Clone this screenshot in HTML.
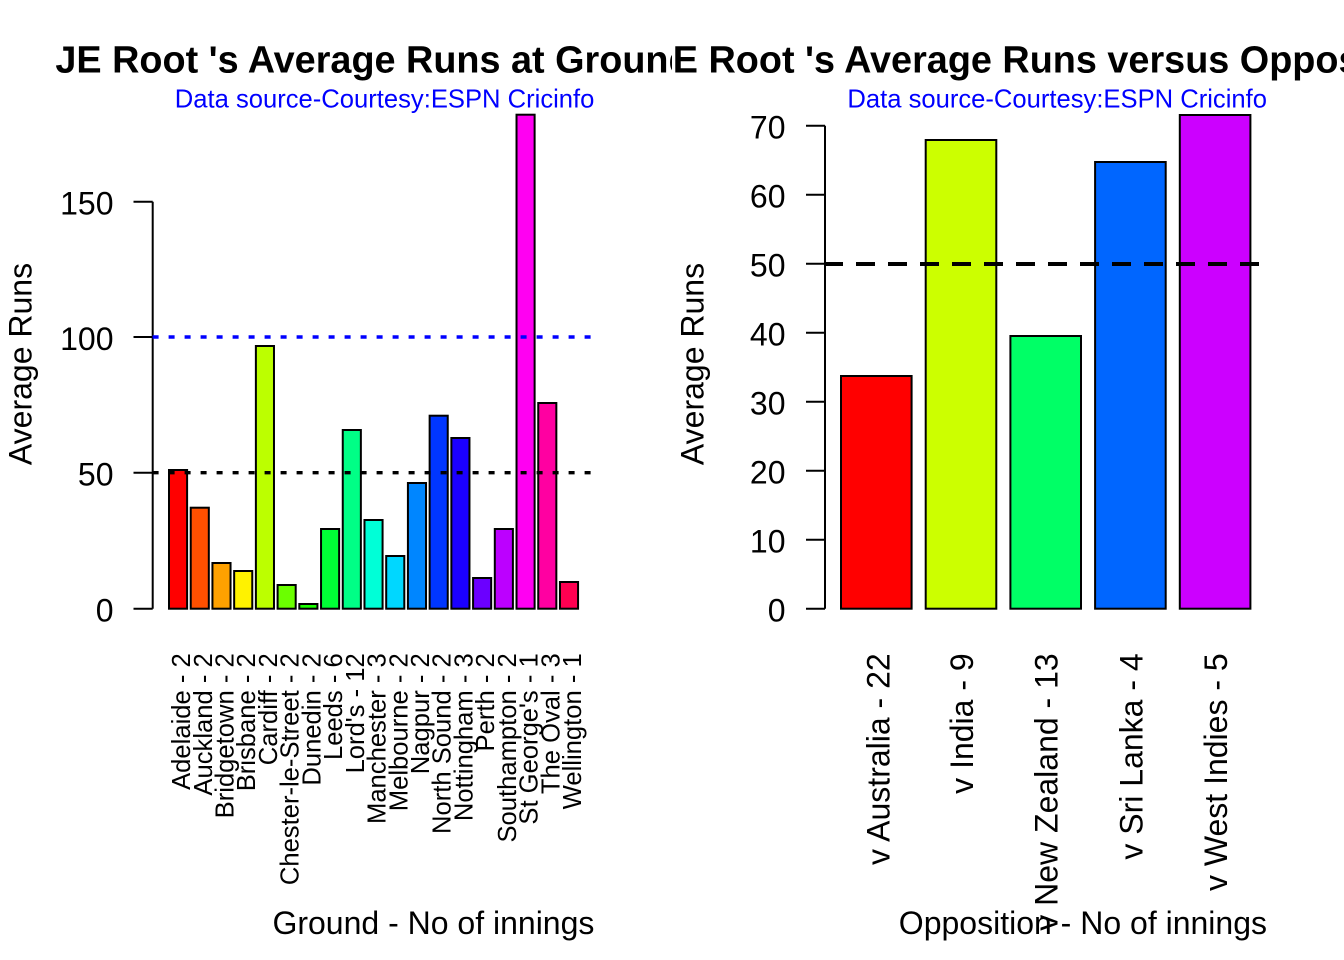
<!DOCTYPE html>
<html>
<head>
<meta charset="utf-8">
<style>
html,body{margin:0;padding:0;background:#fff;}
svg{display:block;}
text{font-family:"Liberation Sans",Arial,sans-serif;fill:#000;}
</style>
</head>
<body>
<svg width="1344" height="960" viewBox="0 0 1344 960" xmlns="http://www.w3.org/2000/svg">
<defs>
<clipPath id="cl"><rect x="0" y="0" width="672" height="960"/></clipPath>
<clipPath id="cr"><rect x="672" y="0" width="672" height="960"/></clipPath>
</defs>
<rect width="1344" height="960" fill="#fff"/>

<!-- Titles -->
<g clip-path="url(#cl)">
<text x="373.5" y="72.7" text-anchor="middle" font-size="37.8" font-weight="bold">JE Root 's Average Runs at Ground</text>
</g>
<g clip-path="url(#cr)">
<text x="1045.5" y="72.7" text-anchor="middle" font-size="37.8" font-weight="bold">JE Root 's Average Runs versus Opposition</text>
</g>
<text x="594.4" y="107.5" text-anchor="end" font-size="25.6" style="fill:#0000FF">Data source-Courtesy:ESPN Cricinfo</text>
<text x="1267" y="107.5" text-anchor="end" font-size="25.6" style="fill:#0000FF">Data source-Courtesy:ESPN Cricinfo</text>

<!-- LEFT CHART bars -->
<g stroke="#000" stroke-width="2">
<rect x="169" y="470" width="18.1" height="138.7" fill="#FF0000"/>
<rect x="190.72" y="507.7" width="18.1" height="101" fill="#FF5000"/>
<rect x="212.44" y="563" width="18.1" height="45.7" fill="#FFA100"/>
<rect x="234.16" y="571" width="18.1" height="37.7" fill="#FFF200"/>
<rect x="255.88" y="346" width="18.1" height="262.7" fill="#BCFF00"/>
<rect x="277.6" y="585" width="18.1" height="23.7" fill="#6BFF00"/>
<rect x="299.32" y="604" width="18.1" height="4.7" fill="#1BFF00"/>
<rect x="321.04" y="529" width="18.1" height="79.7" fill="#00FF36"/>
<rect x="342.76" y="430" width="18.1" height="178.7" fill="#00FF86"/>
<rect x="364.48" y="520" width="18.1" height="88.7" fill="#00FFD7"/>
<rect x="386.2" y="556" width="18.1" height="52.7" fill="#00D7FF"/>
<rect x="407.92" y="483" width="18.1" height="125.7" fill="#0086FF"/>
<rect x="429.64" y="415.7" width="18.1" height="193" fill="#0036FF"/>
<rect x="451.36" y="438" width="18.1" height="170.7" fill="#1B00FF"/>
<rect x="473.08" y="578" width="18.1" height="30.7" fill="#6B00FF"/>
<rect x="494.8" y="529" width="18.1" height="79.7" fill="#BC00FF"/>
<rect x="516.52" y="114.7" width="18.1" height="494" fill="#FF00F2"/>
<rect x="538.24" y="403" width="18.1" height="205.7" fill="#FF00A1"/>
<rect x="559.96" y="582" width="18.1" height="26.7" fill="#FF0051"/>
</g>

<!-- left axis -->
<g stroke="#000" stroke-width="2" fill="none">
<line x1="152.7" y1="201.7" x2="152.7" y2="608.7"/>
<line x1="133.5" y1="201.7" x2="152.7" y2="201.7"/>
<line x1="133.5" y1="337" x2="152.7" y2="337"/>
<line x1="133.5" y1="472.7" x2="152.7" y2="472.7"/>
<line x1="133.5" y1="608.7" x2="152.7" y2="608.7"/>
</g>
<g font-size="32" text-anchor="end">
<text x="113.5" y="214.7">150</text>
<text x="113.5" y="350">100</text>
<text x="113.5" y="485.7">50</text>
<text x="113.5" y="621.7">0</text>
</g>

<!-- left reference lines -->
<line x1="152.6" y1="337" x2="594.4" y2="337" stroke="#0000FF" stroke-width="3.4" stroke-dasharray="6 10"/>
<line x1="152.6" y1="472.7" x2="594.4" y2="472.7" stroke="#000" stroke-width="3.4" stroke-dasharray="6 10"/>

<!-- left x labels -->
<g font-size="25.6" text-anchor="end">
<text transform="translate(190.05,653.3) rotate(-90)">Adelaide - 2</text>
<text transform="translate(211.77,653.3) rotate(-90)">Auckland - 2</text>
<text transform="translate(233.49,653.3) rotate(-90)">Bridgetown - 2</text>
<text transform="translate(255.21,653.3) rotate(-90)">Brisbane - 2</text>
<text transform="translate(276.93,653.3) rotate(-90)">Cardiff - 2</text>
<text transform="translate(298.65,653.3) rotate(-90)">Chester-le-Street - 2</text>
<text transform="translate(320.37,653.3) rotate(-90)">Dunedin - 2</text>
<text transform="translate(342.09,653.3) rotate(-90)">Leeds - 6</text>
<text transform="translate(363.81,653.3) rotate(-90)">Lord's - 12</text>
<text transform="translate(385.53,653.3) rotate(-90)">Manchester - 3</text>
<text transform="translate(407.25,653.3) rotate(-90)">Melbourne - 2</text>
<text transform="translate(428.97,653.3) rotate(-90)">Nagpur - 2</text>
<text transform="translate(450.69,653.3) rotate(-90)">North Sound - 2</text>
<text transform="translate(472.41,653.3) rotate(-90)">Nottingham - 3</text>
<text transform="translate(494.13,653.3) rotate(-90)">Perth - 2</text>
<text transform="translate(515.85,653.3) rotate(-90)">Southampton - 2</text>
<text transform="translate(537.57,653.3) rotate(-90)">St George's - 1</text>
<text transform="translate(559.29,653.3) rotate(-90)">The Oval - 3</text>
<text transform="translate(581.01,653.3) rotate(-90)">Wellington - 1</text>
</g>

<text x="594.4" y="934" text-anchor="end" font-size="32">Ground - No of innings</text>
<text transform="translate(31.7,364) rotate(-90)" text-anchor="middle" font-size="32">Average Runs</text>

<!-- RIGHT CHART bars -->
<g stroke="#000" stroke-width="2">
<rect x="841" y="376" width="70.6" height="232.7" fill="#FF0000"/>
<rect x="925.7" y="140" width="70.6" height="468.7" fill="#CCFF00"/>
<rect x="1010.4" y="336" width="70.6" height="272.7" fill="#00FF66"/>
<rect x="1095.1" y="162" width="70.6" height="446.7" fill="#0066FF"/>
<rect x="1179.8" y="115" width="70.6" height="493.7" fill="#CC00FF"/>
</g>

<!-- right axis -->
<g stroke="#000" stroke-width="2" fill="none">
<line x1="825" y1="125.7" x2="825" y2="608.7"/>
<line x1="806" y1="125.7" x2="825" y2="125.7"/>
<line x1="806" y1="194.7" x2="825" y2="194.7"/>
<line x1="806" y1="263.7" x2="825" y2="263.7"/>
<line x1="806" y1="332.7" x2="825" y2="332.7"/>
<line x1="806" y1="401.7" x2="825" y2="401.7"/>
<line x1="806" y1="470.7" x2="825" y2="470.7"/>
<line x1="806" y1="539.7" x2="825" y2="539.7"/>
<line x1="806" y1="608.7" x2="825" y2="608.7"/>
</g>
<g font-size="32" text-anchor="end">
<text x="785.5" y="138.7">70</text>
<text x="785.5" y="207.7">60</text>
<text x="785.5" y="276.7">50</text>
<text x="785.5" y="345.7">40</text>
<text x="785.5" y="414.7">30</text>
<text x="785.5" y="483.7">20</text>
<text x="785.5" y="552.7">10</text>
<text x="785.5" y="621.7">0</text>
</g>

<!-- right reference line -->
<line x1="824" y1="264" x2="1267" y2="264" stroke="#000" stroke-width="4" stroke-dasharray="19 13"/>

<!-- right x labels -->
<g font-size="32" text-anchor="end">
<text transform="translate(889.3,653.3) rotate(-90)">v Australia - 22</text>
<text transform="translate(973,653.3) rotate(-90)">v India - 9</text>
<text transform="translate(1057.7,653.3) rotate(-90)">v New Zealand - 13</text>
<text transform="translate(1142.4,653.3) rotate(-90)">v Sri Lanka - 4</text>
<text transform="translate(1227.1,653.3) rotate(-90)">v West Indies - 5</text>
</g>

<text x="1267" y="934" text-anchor="end" font-size="32">Opposition - No of innings</text>
<text transform="translate(703.7,364) rotate(-90)" text-anchor="middle" font-size="32">Average Runs</text>
</svg>
</body>
</html>
